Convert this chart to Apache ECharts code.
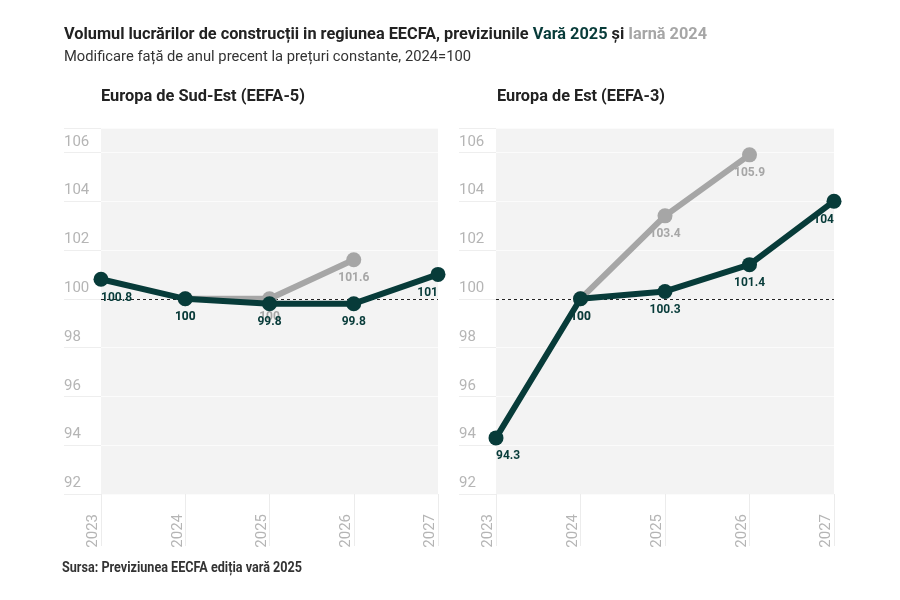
<!DOCTYPE html>
<html>
<head>
<meta charset="UTF-8">
<title>Volumul lucrarilor de constructii</title>
<script src="https://cdn.jsdelivr.net/npm/echarts@6/dist/echarts.min.js"></script>
<style>
  html, body { margin: 0; padding: 0; background: #fff; }
  #chart { width: 900px; height: 600px; }
</style>
</head>
<body>
<div id="chart"></div>
<script>
// ani
var years = ['2023', '2024', '2025', '2026', '2027'];
// Europa de Sud-Est (EEFA-5)
var seVara2025 = [100.8, 100, 99.8, 99.8, 101];
var seIarna2024 = [null, 100, 100, 101.6, null];
// Europa de Est (EEFA-3)
var eVara2025 = [94.3, 100, 100.3, 101.4, 104];
var eIarna2024 = [null, 100, 103.4, 105.9, null];

var DARK = '#073b39';
var GREY = '#a6a6a6';
var FONT = 'Roboto, "Noto Sans", sans-serif';

// fontul original e condensat: il imitam cu o scalare pe orizontala
var measureCtx = document.createElement('canvas').getContext('2d');
function fitScale(text, size, weight, width) {
    measureCtx.font = weight + ' ' + size + 'px Roboto';
    return width / measureCtx.measureText(text).width;
}

function textEl(x, y, text, size, weight, color, width, rich, plain) {
    return {
        type: 'text', x: x, y: y, silent: true,
        scaleX: fitScale(plain || text, size, weight, width),
        style: {
            text: text, fill: color, fontSize: size, fontWeight: weight, fontFamily: FONT,
            verticalAlign: 'middle', align: 'left', rich: rich
        }
    };
}

// etichetele de la capete raman in interiorul graficului
function items(values) {
    var last = values.length - 1;
    return values.map(function (v, i) {
        if (v === null) return null;
        var it = { value: v };
        if (i === 0) it.label = { align: 'left' };
        if (i === last) it.label = { align: 'right' };
        return it;
    });
}

function xAxis(idx) {
    return {
        type: 'category', gridIndex: idx, data: years, boundaryGap: false,
        axisLine: { show: false },
        axisTick: { show: true, length: 52, lineStyle: { color: '#ececec' } },
        axisLabel: {
            rotate: 90, margin: 20, color: '#b5b5b5', fontSize: 15, fontFamily: FONT,
            verticalAlign: 'bottom', interval: 0
        },
        splitLine: { show: false }
    };
}

function yAxis(idx) {
    return {
        type: 'value', gridIndex: idx, min: 92, max: 107, interval: 2,
        axisLine: { show: false },
        axisTick: { show: true, length: 37, lineStyle: { color: '#eeeeee' } },
        axisLabel: {
            margin: 37, align: 'left', verticalAlign: 'bottom', color: '#b5b5b5',
            fontSize: 15, fontFamily: FONT, padding: [0, 0, 3, 0],
            formatter: function (v) { return v > 106 ? '' : v; }
        },
        splitLine: { show: true, lineStyle: { color: '#fbfbfb' } }
    };
}

function series(idx, values, color, z, withRef) {
    var s = {
        type: 'line', xAxisIndex: idx, yAxisIndex: idx, z: z,
        data: items(values), clip: false,
        symbol: 'circle', symbolSize: 15,
        lineStyle: { color: color, width: 6 },
        itemStyle: { color: color },
        label: {
            show: true, position: 'bottom', distance: 5, color: color,
            fontSize: 12, fontWeight: 'bold', fontFamily: FONT
        },
        emphasis: { disabled: true },
        animation: false
    };
    if (withRef) {
        s.markLine = {
            silent: true, symbol: 'none', z: 1,
            label: { show: false },
            lineStyle: { color: '#222', type: [3, 3], width: 1 },
            data: [{ yAxis: 100 }]
        };
    }
    return s;
}

var chart = echarts.init(document.getElementById('chart'), null, { renderer: 'canvas' });

var titlePlain = 'Volumul lucrărilor de construcții in regiunea EECFA, previziunile Vară 2025 și Iarnă 2024';
var titleRich = 'Volumul lucrărilor de construcții in regiunea EECFA, previziunile {d|Vară 2025} și {g|Iarnă 2024}';

var option = {
    backgroundColor: '#fff',
    animation: false,
    graphic: [
        textEl(64, 35, titleRich, 16, 'bold', '#222', 643, {
            d: { fill: DARK, fontSize: 16, fontWeight: 'bold', fontFamily: FONT },
            g: { fill: GREY, fontSize: 16, fontWeight: 'bold', fontFamily: FONT }
        }, titlePlain),
        textEl(64, 57, 'Modificare față de anul precent la prețuri constante, 2024=100', 14, 'normal', '#333', 407),
        textEl(101, 97, 'Europa de Sud-Est (EEFA-5)', 17, 'bold', '#222', 204),
        textEl(497, 97, 'Europa de Est (EEFA-3)', 17, 'bold', '#222', 168),
        textEl(62, 568, 'Sursa: Previziunea EECFA ediția vară 2025', 14, 'bold', '#333', 240)
    ],
    grid: [
        { left: 101, width: 337, top: 128, height: 366, show: true, backgroundColor: '#f3f3f3', borderWidth: 0 },
        { left: 496, width: 338, top: 128, height: 366, show: true, backgroundColor: '#f3f3f3', borderWidth: 0 }
    ],
    xAxis: [xAxis(0), xAxis(1)],
    yAxis: [yAxis(0), yAxis(1)],
    series: [
        series(0, seIarna2024, GREY, 2, true),
        series(0, seVara2025, DARK, 3, false),
        series(1, eIarna2024, GREY, 2, true),
        series(1, eVara2025, DARK, 3, false)
    ]
};
chart.setOption(option);
</script>
</body>
</html>
